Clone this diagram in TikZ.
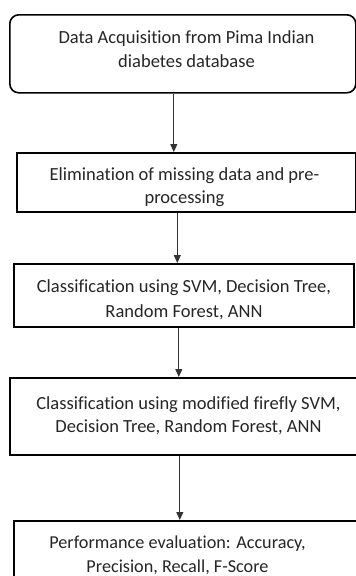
\documentclass[tikz,border=0pt]{standalone}
\usepackage{fontspec}
\setmainfont{Carlito}[Ligatures=NoCommon]
\usetikzlibrary{arrows.meta}
\newcommand{\topst}{\rule{0pt}{15pt}}
\newcommand{\botst}{\rule[-5pt]{0pt}{5pt}}
\tikzset{
  box/.style={draw=black, line width=1.6pt, anchor=north west, inner sep=0pt},
  lbl/.style={inner sep=0pt, align=center, text=black!85},
  arr/.style={draw=black!80, line width=0.9pt, -{Triangle[width=7pt,length=8pt]}}
}
\begin{document}
\begin{tikzpicture}[x=1pt,y=-1pt]
\clip (0,0) rectangle (356,576);
\fill[white] (0,0) rectangle (356,576);
\node[box, rounded corners=9pt, minimum width=346pt, minimum height=78pt] (b1) at (9,14) {};
\node[box, minimum width=339pt, minimum height=59pt] (b2) at (16,152) {};
\node[box, minimum width=340pt, minimum height=63pt] (b3) at (13,263) {};
\node[box, minimum width=360pt, minimum height=77pt] (b4) at (9,377) {};
\node[box, minimum width=360pt, minimum height=80pt] (b5) at (13,520) {};
\node[lbl, font=\fontsize{18.5}{24}\selectfont] (t1) at (186.5,50)
  {\topst Data Acquisition from Pima Indian\\diabetes database\botst};
\node[lbl, font=\fontsize{18.5}{23}\selectfont] (t2) at (184.5,186.5)
  {\topst Elimination of missing data and pre-\\processing\botst};
\node[lbl, font=\fontsize{18.5}{25}\selectfont] (t3) at (184,299.5)
  {\topst Classification using SVM, Decision Tree,\\Random Forest, ANN\botst};
\node[lbl, font=\fontsize{18.5}{23}\selectfont] (t4) at (188.5,415.5)
  {\topst Classification using modified firefly SVM,\\Decision Tree, Random Forest, ANN\botst};
\node[lbl, font=\fontsize{18.2}{24}\selectfont] (t5) at (177.5,555)
  {\topst Performance evaluation: Accuracy,\\Precision, Recall, F-Score\botst};
\draw[arr] ([xshift=-9pt]b1.south) -- ([xshift=-9pt]b1.south |- b2.north);
\draw[arr] ([xshift=-9pt]b2.south) -- ([xshift=-9pt]b2.south |- b3.north);
\draw[arr] ([xshift=-5pt]b3.south) -- ([xshift=-5pt]b3.south |- b4.north);
\draw[arr] ([xshift=-10pt]b4.south) -- ([xshift=-10pt]b4.south |- b5.north);
\end{tikzpicture}
\end{document}
